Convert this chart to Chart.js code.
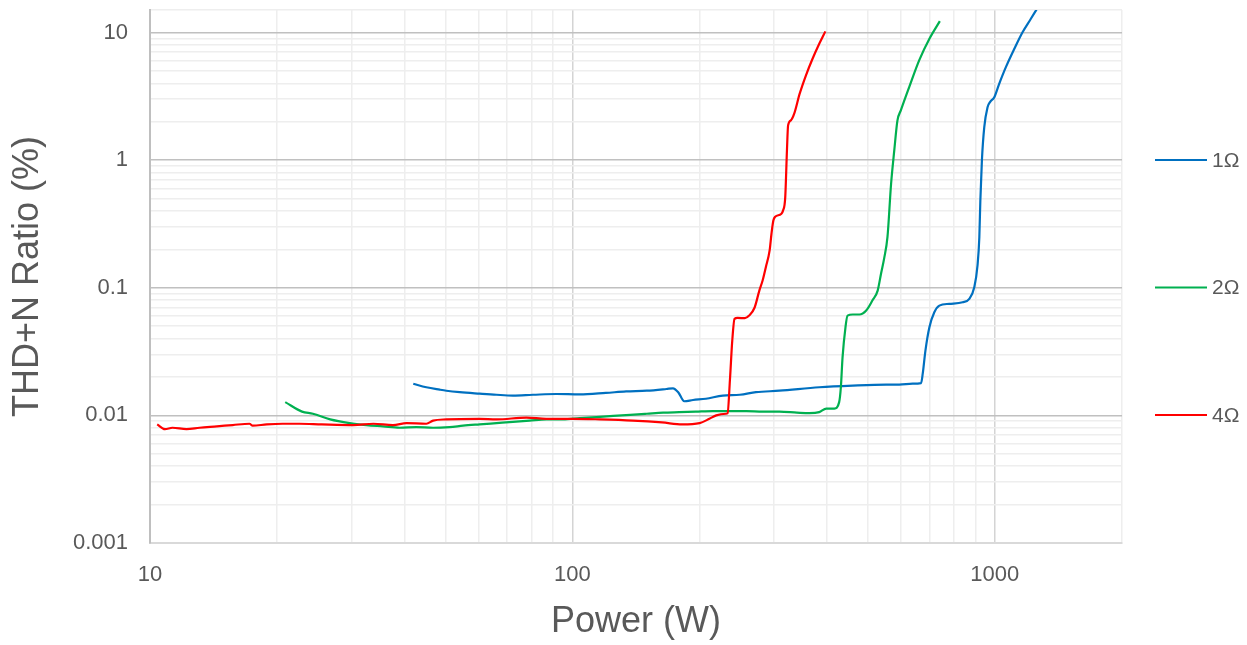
<!DOCTYPE html>
<html><head><meta charset="utf-8">
<script src="https://cdn.jsdelivr.net/npm/chart.js@4/dist/chart.umd.min.js"></script>
<style>html,body{margin:0;padding:0;background:#fff}#wrap{width:1247px;height:645px;position:relative}</style>
</head><body><div id="wrap"><canvas id="c"></canvas></div>
<script>
const seriesNames = ['1Ω', '2Ω', '4Ω'];
const seriesColors = ['#0070C0', '#00B050', '#FF0000'];

const power1 = [42.0, 45.1, 48.5, 50.3, 54.1, 60.3, 66.1, 72.3, 80.6, 91.6, 104, 120, 134, 150, 167, 173, 178, 184, 193, 207, 227, 249, 272, 309, 384, 461, 553, 594, 639, 669, 675, 685, 700, 719, 739, 780, 839, 870, 894, 910, 919, 924, 932, 944, 961, 974, 997, 1024, 1062, 1112, 1163, 1217, 1255];
const thd1 = [0.0177, 0.0166, 0.0159, 0.0156, 0.0152, 0.0148, 0.0145, 0.0143, 0.0145, 0.0147, 0.0146, 0.0150, 0.0154, 0.0156, 0.0161, 0.0163, 0.0152, 0.0129, 0.0132, 0.0135, 0.0143, 0.0145, 0.0152, 0.0156, 0.0166, 0.0171, 0.0174, 0.0174, 0.0177, 0.0179, 0.0212, 0.0322, 0.049, 0.0642, 0.0724, 0.0748, 0.0769, 0.0818, 0.1009, 0.15, 0.25, 0.48, 1.0, 1.81, 2.6, 2.85, 3.11, 3.96, 5.35, 7.45, 10.05, 12.8, 15.1];

const power2 = [20.9, 22.9, 24.3, 26.7, 29.7, 32.5, 35.6, 39.0, 42.7, 46.8, 51.2, 55.1, 60.3, 66.1, 72.3, 79.2, 86.8, 95.0, 104, 114, 125, 137, 150, 164, 179, 196, 215, 235, 258, 282, 309, 340, 364, 384, 399, 417, 428, 432, 436, 443, 448, 461, 478, 496, 513, 528, 538, 547, 557, 568, 578, 588, 599, 627, 662, 700, 741];
const thd2 = [0.0127, 0.0107, 0.0103, 0.0093, 0.0087, 0.0084, 0.0082, 0.0080, 0.0081, 0.0080, 0.0081, 0.0083, 0.0085, 0.0087, 0.0089, 0.0091, 0.0093, 0.0093, 0.0095, 0.0097, 0.0099, 0.0101, 0.0103, 0.0105, 0.0106, 0.0107, 0.0108, 0.0108, 0.0108, 0.0107, 0.0107, 0.0105, 0.0104, 0.0106, 0.0113, 0.0113, 0.0127, 0.0166, 0.0285, 0.049, 0.0605, 0.0617, 0.0617, 0.0663, 0.0794, 0.095, 0.13, 0.17, 0.25, 0.65, 1.19, 2.04, 2.45, 3.73, 6.04, 8.93, 12.27];

const power4 = [10.4, 10.85, 11.3, 12.2, 13.1, 14.4, 15.7, 17.2, 17.5, 18.9, 20.6, 22.6, 25.5, 30.3, 33.8, 37.6, 40.5, 45.1, 46.8, 50.3, 60.3, 66.1, 77.8, 86.7, 100, 116, 139, 163, 182, 200, 211, 219, 231, 233, 236, 239, 242, 246, 256, 262, 270, 277, 282, 287, 293, 296, 299, 302, 312, 315, 319, 322, 324, 329, 335, 345, 357, 370, 384, 397];
const thd4 = [0.0085, 0.0078, 0.0080, 0.0078, 0.0080, 0.0082, 0.0084, 0.0086, 0.0083, 0.0085, 0.0086, 0.0086, 0.0085, 0.0084, 0.0086, 0.0084, 0.0087, 0.0086, 0.0091, 0.0093, 0.0094, 0.0093, 0.0096, 0.0094, 0.0094, 0.0093, 0.0091, 0.0088, 0.0085, 0.0087, 0.0094, 0.0100, 0.0103, 0.0104, 0.019, 0.0385, 0.057, 0.058, 0.0577, 0.0605, 0.070, 0.095, 0.114, 0.145, 0.196, 0.266, 0.336, 0.36, 0.378, 0.40, 0.51, 1.19, 1.87, 2.05, 2.31, 3.3, 4.6, 6.2, 8.15, 10.2];

const xTickValues = [10, 100, 1000];
const xTickLabels = ['10', '100', '1000'];
const yTickValues = [0.001, 0.01, 0.1, 1, 10];
const yTickLabels = ['0.001', '0.01', '0.1', '1', '10'];
const xRange = [10, 2000];
const yRange = [0.001, 15];

const xTitle = 'Power (W)';
const yTitle = 'THD+N Ratio (%)';

const TEXT = '#595959';
const FONT = "'Liberation Sans', Arial, sans-serif";

function logTicks(min, max) {
  const out = [];
  for (let e = Math.floor(Math.log10(min)); e <= Math.ceil(Math.log10(max)); e++) {
    for (let m = 1; m <= 9; m++) {
      const v = Number((m * Math.pow(10, e)).toPrecision(6));
      if (v >= min - 1e-12 && v <= max + 1e-9) out.push(v);
    }
  }
  if (out[out.length - 1] < max) out.push(max);
  return out;
}
function majorIndex(list, v) {
  return list.findIndex(t => Math.abs(Math.log10(t) - Math.log10(v)) < 1e-6);
}
function toPts(xs, ys) { return xs.map((x, i) => ({x: x, y: ys[i]})); }

const seriesData = [toPts(power1, thd1), toPts(power2, thd2), toPts(power4, thd4)];

const legendYs = [160, 287.5, 415];
const legendPlugin = {
  id: 'sideLegend',
  afterDraw(chart) {
    const ctx = chart.ctx;
    ctx.save();
    chart.data.datasets.forEach((ds, i) => {
      const y = legendYs[i];
      ctx.strokeStyle = ds.borderColor;
      ctx.lineWidth = 2;
      ctx.beginPath();
      ctx.moveTo(1155, y);
      ctx.lineTo(1207, y);
      ctx.stroke();
      ctx.fillStyle = TEXT;
      ctx.font = '21px ' + FONT;
      ctx.textBaseline = 'middle';
      ctx.textAlign = 'left';
      ctx.fillText(ds.label, 1212, y + 1);
    });
    ctx.restore();
  }
};

new Chart(document.getElementById('c'), {
  type: 'scatter',
  data: {
    datasets: seriesData.map((d, i) => ({
      label: seriesNames[i],
      data: d,
      showLine: true,
      borderColor: seriesColors[i],
      backgroundColor: seriesColors[i],
      borderWidth: 2.2,
      pointRadius: 0,
      pointHoverRadius: 0,
      cubicInterpolationMode: 'monotone',
      order: 3 - i,
      fill: false
    }))
  },
  options: {
    responsive: true,
    maintainAspectRatio: false,
    animation: false,
    layout: {padding: {top: 10, right: 125, left: 0, bottom: 0}},
    plugins: {legend: {display: false}, tooltip: {enabled: false}},
    scales: {
      x: {
        type: 'logarithmic',
        min: xRange[0], max: xRange[1],
        afterBuildTicks: s => { s.ticks = logTicks(xRange[0], xRange[1]).map(v => ({value: v})); },
        afterFit: s => { s.height = 102; s.paddingLeft = 0; s.paddingRight = 0; },
        grid: {
          drawTicks: false,
          color: c => majorIndex(xTickValues, c.tick.value) >= 0 ? '#d4d4d4' : '#eeeeee',
          lineWidth: 1.5
        },
        border: {color: '#d9d9d9', width: 2},
        ticks: {
          autoSkip: false, maxRotation: 0, padding: 19,
          color: TEXT, font: {family: FONT, size: 22},
          callback: v => { const k = majorIndex(xTickValues, v); return k >= 0 ? xTickLabels[k] : ''; }
        },
        title: {display: true, text: xTitle, color: TEXT, font: {family: FONT, size: 36, lineHeight: 1.2}, padding: {top: 0, bottom: 1}}
      },
      y: {
        type: 'logarithmic',
        min: yRange[0], max: yRange[1],
        afterBuildTicks: s => { s.ticks = logTicks(yRange[0], yRange[1]).map(v => ({value: v})); },
        afterFit: s => { s.width = 150; s.paddingTop = 0; s.paddingBottom = 0; },
        grid: {
          drawTicks: false,
          color: c => majorIndex(yTickValues, c.tick.value) >= 0 ? '#c0c0c0' : '#eeeeee',
          lineWidth: 1.5
        },
        border: {color: '#bfbfbf', width: 2},
        ticks: {
          autoSkip: false, padding: 22,
          color: TEXT, font: {family: FONT, size: 22},
          callback: v => { const k = majorIndex(yTickValues, v); return k >= 0 ? yTickLabels[k] : ''; }
        },
        title: {display: true, text: yTitle, color: TEXT, font: {family: FONT, size: 36, lineHeight: 1.2}, padding: {top: 6, bottom: 0}}
      }
    }
  },
  plugins: [legendPlugin]
});
</script></body></html>
